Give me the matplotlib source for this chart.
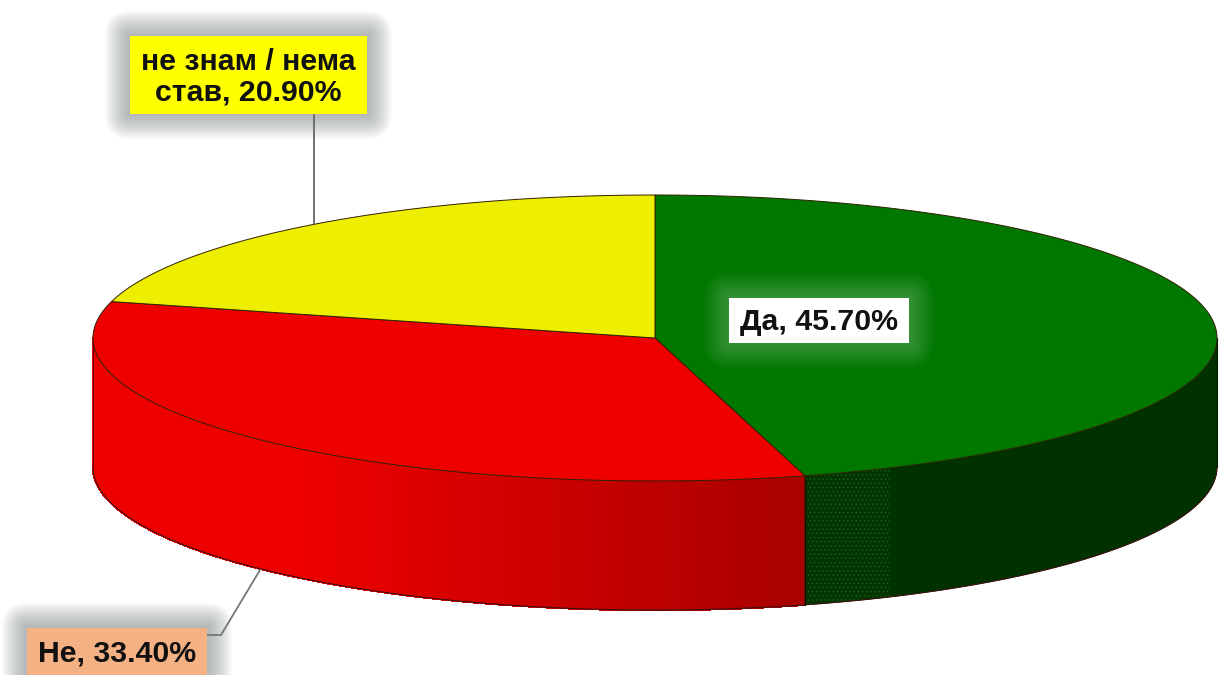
import numpy as np
import matplotlib
matplotlib.use("Agg")
import matplotlib.pyplot as plt
from matplotlib.patches import Polygon, FancyBboxPatch, Rectangle
from matplotlib.colors import to_rgb

labels = ['Да, 45.70%', 'Не, 33.40%', 'не знам / нема\nстав, 20.90%']
values = [45.7, 33.4, 20.9]
top_colors = ['#007800', '#ee0000', '#eeee00']
box_colors = ['#ffffff', '#f4b183', '#ffff00']

cx, cy = 655, 338
rx, ry = 562, 143
depth = 129

plt.rcParams['font.family'] = ['Liberation Sans', 'DejaVu Sans']
plt.rcParams['hatch.linewidth'] = 0.3

def arc(a0, a1, n=200, dy=0):
    t = np.radians(np.linspace(a0, a1, n))
    return np.column_stack([cx + rx*np.sin(t), cy + dy - ry*np.cos(t)])

def mix(c0, c1, f):
    c0, c1 = np.array(to_rgb(c0)), np.array(to_rgb(c1))
    return tuple(c0 + (c1-c0)*f)

def label_box(x0, y0, x1, y1, color, glow, alpha, text, text_y, zorder=10):
    # soft shadow built from stacked rounded boxes
    for i in range(13, 0, -1):
        pad = i*1.9
        ax.add_patch(FancyBboxPatch((x0, y0), x1-x0, y1-y0, boxstyle=f"round,pad={pad},rounding_size={pad}",
                                    fc=glow, ec='none', alpha=alpha, zorder=zorder))
    ax.add_patch(Rectangle((x0, y0), x1-x0, y1-y0, fc=color, ec='none', zorder=zorder+1))
    ax.text((x0+x1)/2, text_y, text, ha='center', va='center', fontsize=21.8, fontweight='bold',
            color='#111111', linespacing=1.12, zorder=zorder+2)

fig = plt.figure(figsize=(12.24, 6.75), dpi=100)
ax = fig.add_axes([0, 0, 1, 1])
ax.set_xlim(0, 1224)
ax.set_ylim(675, 0)
ax.axis('off')

angles = np.cumsum([0] + values) * 3.6

# rim of the red slice, bright on the left and darker towards the front
a_start, a_end = angles[1], min(angles[2], 270)
steps = 160
edges = np.linspace(a_start, a_end, steps+1)
for i in range(steps):
    top = arc(edges[i], edges[i+1], 4)
    pts = np.vstack([top, (top + [0, depth])[::-1]])
    x = top[:, 0].mean()
    f = np.clip((x - 300) / (805 - 300), 0, 1)
    c = mix('#ee0000', '#a80000', f)
    ax.add_patch(Polygon(pts, fc=c, ec=c, lw=1.0, antialiased=False, zorder=2))

# rim of the green slice
top = arc(90, angles[1])
ax.add_patch(Polygon(np.vstack([top, (top + [0, depth])[::-1]]), fc='#003200', ec='#003200', lw=0.5, zorder=2))
# stippled part next to the red slice
a_dither = 180 - np.degrees(np.arcsin((890-cx)/rx))
top = arc(a_dither, angles[1], 60)
ax.add_patch(Polygon(np.vstack([top, (top + [0, depth])[::-1]]), fc='#033503', ec='#1c7a1c', lw=0,
                     hatch='....', zorder=3))

# outline of the rim
ax.plot(*arc(90, 270, 400, depth).T, color='#401010', lw=0.8, zorder=4)
ax.plot([cx-rx, cx-rx], [cy, cy+depth], color='#700000', lw=0.8, zorder=4)
ax.plot([cx+rx, cx+rx], [cy, cy+depth], color='#001800', lw=0.8, zorder=4)
x_front = arc(angles[1], angles[1], 1)[0]
ax.plot([x_front[0], x_front[0]], [x_front[1], x_front[1]+depth], color='#101000', lw=0.9, zorder=4)

# top face
for i in range(len(values)):
    pts = np.vstack([[cx, cy], arc(angles[i], angles[i+1], 300)])
    ax.add_patch(Polygon(pts, fc=top_colors[i], ec='#302000', lw=0.7, joinstyle='round', zorder=5))

# leader lines
ax.plot([314, 314], [114, 224], color='#555555', lw=1.2, zorder=6)
ax.plot([207, 221, 260], [635, 635, 570], color='#777777', lw=1.3, zorder=6)

label_box(130, 36, 367, 114, box_colors[2], '#788080', 0.055, labels[2], 77)
label_box(729, 298, 909, 343, box_colors[0], '#a8c8a8', 0.03, labels[0], 322)
label_box(27, 628, 207, 680, box_colors[1], '#788080', 0.055, labels[1], 653)

fig.savefig('out.png', dpi=100, facecolor='white')
